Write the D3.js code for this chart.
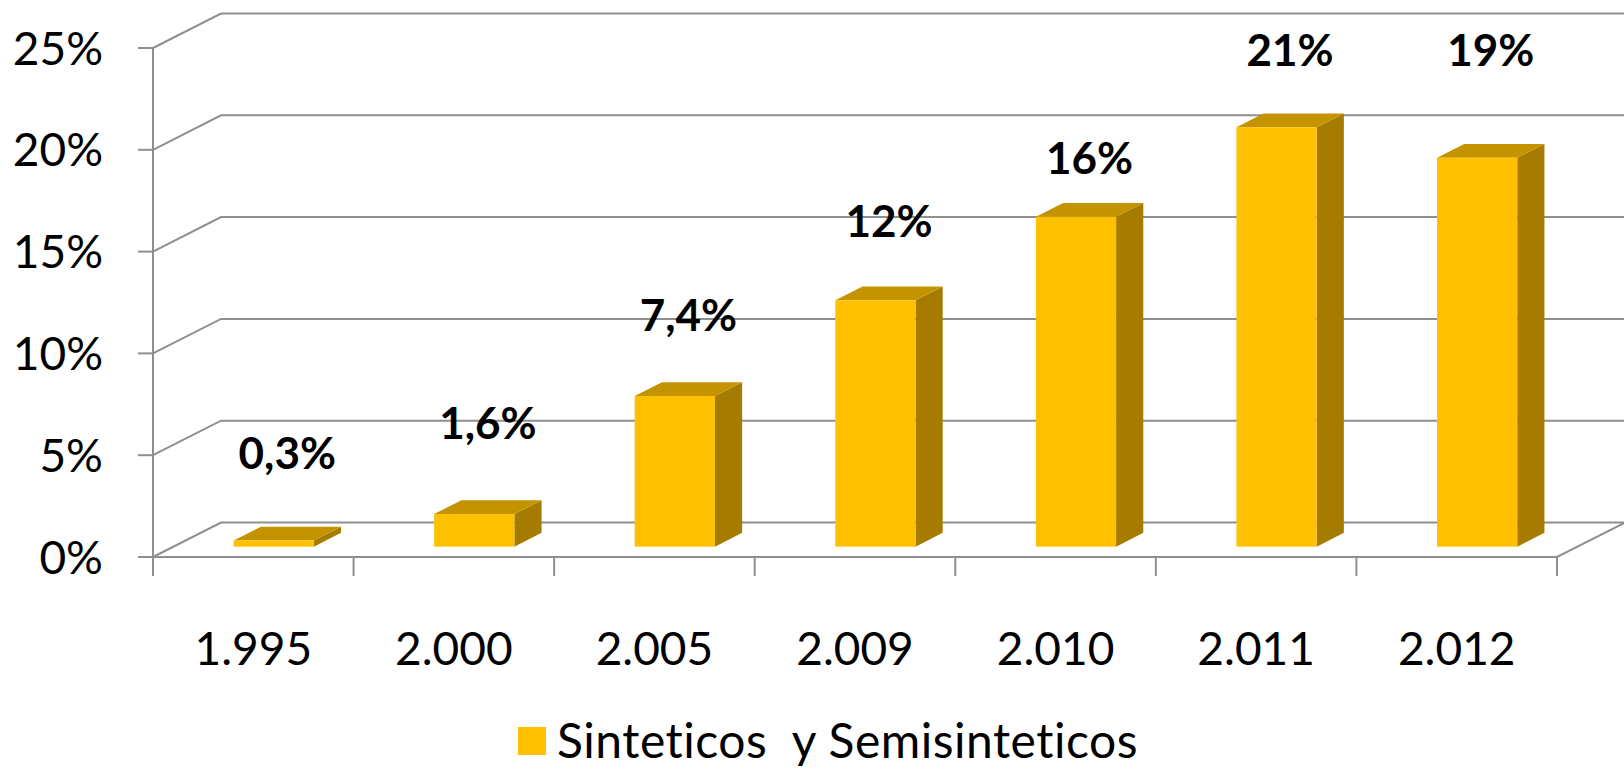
<!DOCTYPE html>
<html>
<head>
<meta charset="utf-8">
<script src="https://cdn.jsdelivr.net/npm/d3@7"></script>
<style>
  html, body { margin: 0; padding: 0; background: #fff; }
  svg { display: block; font-family: Lato, "Open Sans", sans-serif; }
</style>
</head>
<body>
<script>
// Chart data
const years = ["1.995", "2.000", "2.005", "2.009", "2.010", "2.011", "2.012"];
const shares = [0.3, 1.6, 7.4, 12.1, 16.2, 20.6, 19.1];
const shareLabels = ["0,3%", "1,6%", "7,4%", "12%", "16%", "21%", "19%"];
// level (in %) where each hand placed data label sits
const labelLevels = [3.8, 5.3, 10.6, 15.2, 18.3, 23.6, 23.6];
const yTicks = [0, 5, 10, 15, 20, 25];
const seriesName = "Sinteticos  y Semisinteticos";

// Size and layout
const W = 1624, H = 769;
const margin = {top: 48, right: 67, bottom: 212, left: 153};
const width = W - margin.left - margin.right;
const height = H - margin.top - margin.bottom;

// depth of the 3D box (pixels at full depth)
const DX = 68, DY = 34.5;
// bars stand from 0.3 to 0.7 of the depth
const zFront = 0.3, zBack = 0.7;

const gridColor = "#8f8f8f";
const colors = {front: "#FFC000", top: "#C49400", side: "#A67C00"};

const svg = d3.select("body")
    .append("svg")
    .attr("width", W)
    .attr("height", H);

const g = svg.append("g")
    .attr("transform", `translate(${margin.left},${margin.top})`);

// Scales
const x = d3.scaleBand()
    .domain(years)
    .range([0, width])
    .paddingInner(0.6)
    .paddingOuter(0.3);

const y = d3.scaleLinear()
    .domain([0, 25])
    .range([height, 0]);

// project a point pushed back by depth fraction z
const px = (xv, z) => xv + z * DX;
const py = (yv, z) => yv - z * DY;

// Walls: side wall diagonals plus back wall lines
g.selectAll(".grid")
    .data(yTicks)
    .enter().append("path")
    .attr("class", "grid")
    .attr("fill", "none")
    .attr("stroke", gridColor)
    .attr("stroke-width", 2)
    .attr("d", d => `M0,${y(d)}L${px(0, 1)},${py(y(d), 1)}L${px(width, 1) + 5},${py(y(d), 1)}`);

// Floor front edge and right edge
g.append("path")
    .attr("fill", "none")
    .attr("stroke", gridColor)
    .attr("stroke-width", 2)
    .attr("d", `M0,${y(0)}L${width},${y(0)}L${px(width, 1)},${py(y(0), 1)}`);

// Vertical axis line
g.append("line")
    .attr("x1", 0).attr("x2", 0)
    .attr("y1", y(25)).attr("y2", y(0) + 19)
    .attr("stroke", gridColor)
    .attr("stroke-width", 2);

// Y ticks and labels
g.selectAll(".ytick")
    .data(yTicks)
    .enter().append("line")
    .attr("x1", -15).attr("x2", 0)
    .attr("y1", d => y(d)).attr("y2", d => y(d))
    .attr("stroke", gridColor)
    .attr("stroke-width", 2);

g.selectAll(".ylabel")
    .data(yTicks)
    .enter().append("text")
    .attr("x", -50)
    .attr("y", d => y(d))
    .attr("dy", "0.36em")
    .attr("text-anchor", "end")
    .style("font-size", "46px")
    .attr("fill", "#000")
    .text(d => d + "%");

// X ticks at category boundaries
g.selectAll(".xtick")
    .data(d3.range(years.length + 1))
    .enter().append("line")
    .attr("x1", i => i * x.step()).attr("x2", i => i * x.step())
    .attr("y1", y(0)).attr("y2", y(0) + 19)
    .attr("stroke", gridColor)
    .attr("stroke-width", 2);

g.selectAll(".xlabel")
    .data(years)
    .enter().append("text")
    .attr("x", d => x(d) + x.bandwidth() / 2)
    .attr("y", y(0) + 108)
    .attr("text-anchor", "middle")
    .style("font-size", "46px")
    .attr("fill", "#000")
    .text(d => d);

// Bars as boxes
const bars = g.selectAll(".bar")
    .data(years.map((yr, i) => ({year: yr, value: shares[i], label: shareLabels[i], level: labelLevels[i]})))
    .enter().append("g")
    .attr("class", "bar");

bars.each(function(d) {
    const b = d3.select(this);
    const xl = px(x(d.year), zFront);
    const xr = xl + x.bandwidth();
    const top = py(y(d.value), zFront);
    const bot = py(y(0), zFront);
    const k = zBack - zFront;

    // side face
    b.append("path")
        .attr("fill", colors.side)
        .attr("d", `M${xr},${top}L${xr + k * DX},${top - k * DY}L${xr + k * DX},${bot - k * DY}L${xr},${bot}Z`);
    // top face
    b.append("path")
        .attr("fill", colors.top)
        .attr("d", `M${xl},${top}L${xl + k * DX},${top - k * DY}L${xr + k * DX},${top - k * DY}L${xr},${top}Z`);
    // front face
    b.append("rect")
        .attr("x", xl)
        .attr("y", top)
        .attr("width", x.bandwidth())
        .attr("height", bot - top)
        .attr("fill", colors.front);
});

// Data labels
bars.append("text")
    .attr("x", d => px(x(d.year) + x.bandwidth() / 2, (zFront + zBack) / 2))
    .attr("y", d => py(y(d.level), zFront))
    .attr("text-anchor", "middle")
    .style("font-size", "44px")
    .style("font-weight", "bold")
    .attr("fill", "#000")
    .text(d => d.label);

// Legend
const legend = svg.append("g")
    .attr("transform", "translate(518,727)");

legend.append("rect")
    .attr("width", 28)
    .attr("height", 28)
    .attr("fill", colors.front);

legend.append("text")
    .attr("x", 39)
    .attr("y", 31)
    .style("font-size", "48px")
    .style("letter-spacing", "0.5px")
    .style("white-space", "pre")
    .attr("fill", "#000")
    .text(seriesName);
</script>
</body>
</html>
